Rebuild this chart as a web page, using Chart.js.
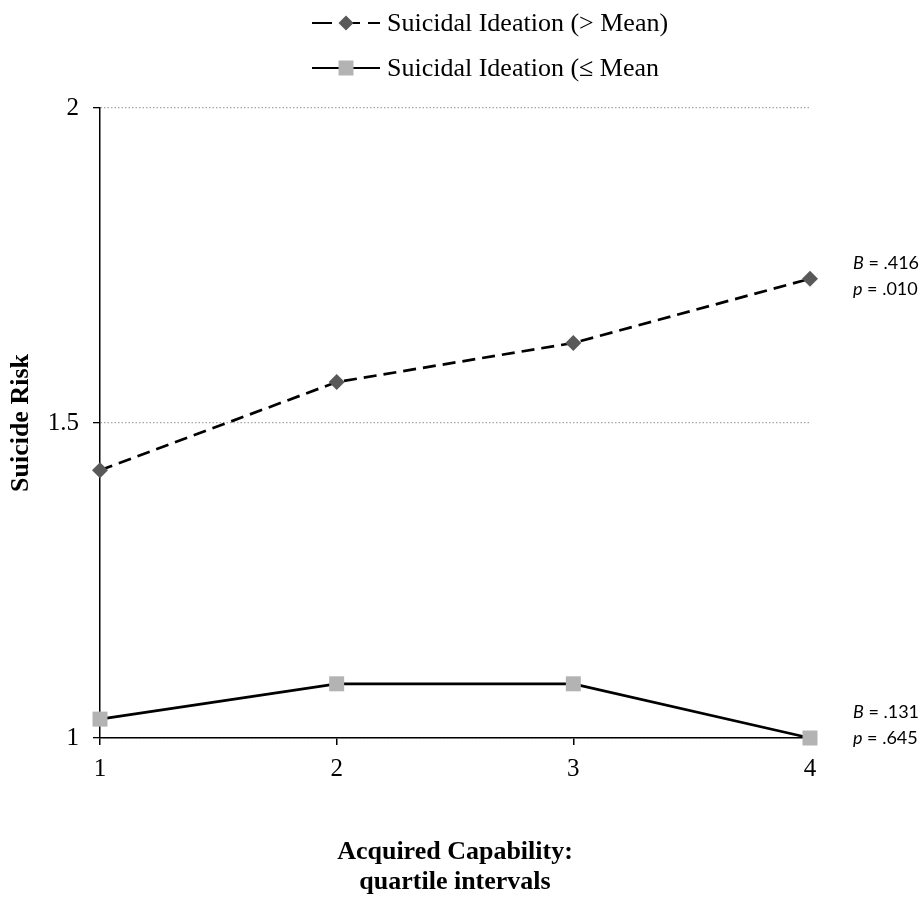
<!DOCTYPE html>
<html>
<head>
<meta charset="utf-8">
<script src="https://cdn.jsdelivr.net/npm/chart.js@4"></script>
<style>
  body { margin: 0; background: #fff; }
  #wrap { width: 923px; height: 897px; }
</style>
</head>
<body>
<div id="wrap"><canvas id="chart"></canvas></div>
<script>
const quartiles = ['1', '2', '3', '4']
const highIdeation = [1.425, 1.565, 1.627, 1.729]
const lowIdeation = [1.030, 1.086, 1.086, 1.000]
const seriesNames = ['Suicidal Ideation (> Mean)', 'Suicidal Ideation (\u2264 Mean']
const yTicks = [1, 1.5, 2]
const bValues = ['.416', '.131']
const pValues = ['.010', '.645']

const serif = "'Liberation Serif', 'Times New Roman', serif"
const sans = "Lato, 'Open Sans', sans-serif"

// legend: line segment with marker in the middle, then the label
const lineLegend = {
    id: 'lineLegend',
    afterDraw(chart) {
        const ctx = chart.ctx
        chart.data.datasets.forEach((ds, i) => {
            const y = 23 + i * 45
            const x0 = 312, x1 = 380, xm = (x0 + x1) / 2
            ctx.save()
            ctx.strokeStyle = '#000'
            ctx.lineWidth = 2
            ctx.setLineDash(ds.borderDash.length ? [20, 8] : [])
            ctx.beginPath()
            ctx.moveTo(x0, y)
            ctx.lineTo(x1, y)
            ctx.stroke()
            ctx.setLineDash([])
            ctx.fillStyle = ds.pointBackgroundColor
            if (ds.pointStyle == 'rectRot') {
                const r = 7.5
                ctx.beginPath()
                ctx.moveTo(xm, y - r)
                ctx.lineTo(xm + r, y)
                ctx.lineTo(xm, y + r)
                ctx.lineTo(xm - r, y)
                ctx.closePath()
                ctx.fill()
            } else {
                ctx.fillRect(xm - 7.5, y - 7.5, 15, 15)
            }
            ctx.fillStyle = '#000'
            ctx.font = '26px ' + serif
            ctx.textBaseline = 'middle'
            ctx.fillText(ds.label, 387, y + 1)
            ctx.restore()
        })
    }
}

// B / p values next to the last point of each line
const statsLabels = {
    id: 'statsLabels',
    afterDraw(chart) {
        const ctx = chart.ctx
        const offsets = [-16, -26]
        chart.data.datasets.forEach((ds, i) => {
            const pts = chart.getDatasetMeta(i).data
            const last = pts[pts.length - 1]
            const x = last.x + 43
            const y = last.y + offsets[i]
            drawStat(ctx, 'B', ' = ' + bValues[i], x, y)
            drawStat(ctx, 'p', ' = ' + pValues[i], x, y + 26)
        })
    }
}

function drawStat(ctx, letter, rest, x, y) {
    ctx.save()
    ctx.fillStyle = '#000'
    ctx.textBaseline = 'middle'
    ctx.font = 'italic 18px ' + sans
    ctx.fillText(letter, x, y)
    const w = ctx.measureText(letter).width
    ctx.font = '18px ' + sans
    ctx.fillText(rest, x + w, y)
    ctx.restore()
}

const data = {
    labels: quartiles,
    datasets: [{
        label: seriesNames[0],
        data: highIdeation,
        borderColor: '#000',
        borderWidth: 2.7,
        borderDash: [13, 7],
        pointStyle: 'rectRot',
        pointRadius: 8,
        pointBackgroundColor: '#595959',
        pointBorderWidth: 0,
        clip: false
    }, {
        label: seriesNames[1],
        data: lowIdeation,
        borderColor: '#000',
        borderWidth: 2.7,
        borderDash: [],
        pointStyle: 'rect',
        pointRadius: 10.6,
        pointBackgroundColor: '#b3b3b3',
        pointBorderWidth: 0,
        clip: false
    }]
}

const options = {
    responsive: true,
    maintainAspectRatio: false,
    animation: false,
    events: [],
    layout: { padding: { top: 108, right: 113, bottom: 0, left: 0 } },
    plugins: {
        legend: { display: false },
        tooltip: { enabled: false }
    },
    scales: {
        x: {
            offset: false,
            grid: { drawOnChartArea: false, color: '#000', lineWidth: 1.5, tickLength: 7 },
            border: { color: '#000', width: 1.5 },
            ticks: { color: '#000', padding: 9, font: { family: serif, size: 25 } },
            title: {
                display: true,
                text: ['Acquired Capability:', 'quartile intervals'],
                color: '#000',
                font: { family: serif, size: 26, weight: 'bold', lineHeight: '30px' },
                padding: { top: 50, bottom: 0 }
            },
            afterFit: s => { s.height = 159 }
        },
        y: {
            min: yTicks[0],
            max: yTicks[yTicks.length - 1],
            afterBuildTicks: s => { s.ticks = yTicks.map(v => ({ value: v })) },
            grid: { color: '#a6a6a6', lineWidth: 1.3, tickColor: '#000', tickLength: 7, tickBorderDash: [] },
            border: { color: '#000', width: 1.5, dash: [1.5, 2] },
            ticks: { color: '#000', padding: 14, font: { family: serif, size: 25 }, callback: v => String(v) },
            title: {
                display: true,
                text: 'Suicide Risk',
                color: '#000',
                font: { family: serif, size: 26, weight: 'bold' },
                padding: { top: 6, bottom: 0 }
            },
            afterFit: s => { s.width = 100 }
        }
    }
}

new Chart('chart', { type: 'line', data, options, plugins: [lineLegend, statsLabels] })
</script>
</body>
</html>
